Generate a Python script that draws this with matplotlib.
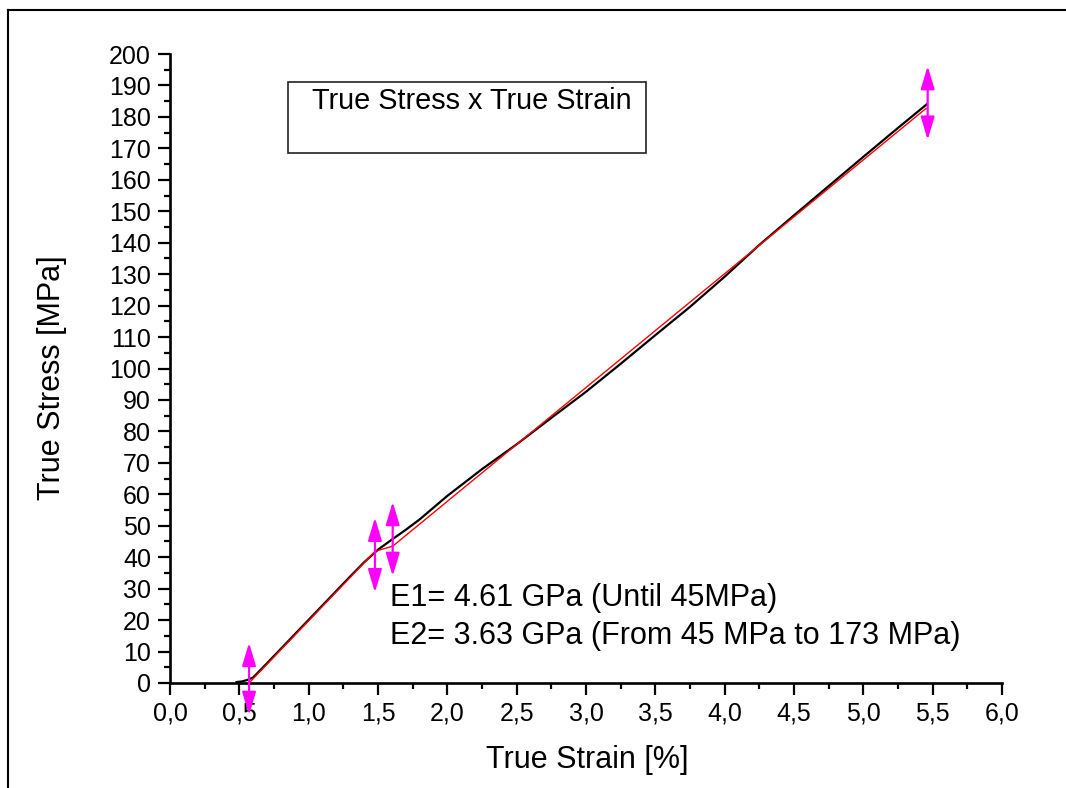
import matplotlib
matplotlib.use("Agg")
import matplotlib.pyplot as plt
from matplotlib.lines import Line2D
from matplotlib.patches import Rectangle, ArrowStyle
from matplotlib.ticker import MultipleLocator, FuncFormatter

plt.rcParams['font.family'] = ['Liberation Sans', 'DejaVu Sans']

# Measured curve (black)
strain_meas = [0.48, 0.52, 0.56, 0.60, 0.70, 0.80, 0.90, 1.00, 1.10, 1.20, 1.30, 1.40,
               1.50, 1.60, 1.70, 1.80, 2.00, 2.25, 2.50, 2.75, 3.00, 3.25, 3.50, 3.75,
               4.00, 4.25, 4.50, 4.75, 5.00, 5.25, 5.46]
stress_meas = [0.3, 0.5, 1.0, 1.8, 6.3, 10.9, 15.5, 20.1, 24.7, 29.3, 33.9, 38.4,
               42.4, 45.6, 48.7, 52.0, 59.5, 68.0, 75.9, 84.3, 92.6, 101.5, 110.6, 119.6,
               129.2, 139.3, 148.7, 158.0, 167.3, 176.5, 184.1]

# Linear fits (red)
strain_fit = [0.57, 1.48, 1.606, 5.452]
stress_fit = [0.0, 41.9, 43.5, 182.7]

# Magenta markers (double arrows): x, y_top, y_bottom
arrow_x = [0.570, 1.478, 1.606, 5.464]
arrow_top = [12.8, 52.6, 57.6, 196.2]
arrow_bot = [-10.2, 28.8, 34.0, 172.7]

xlabel = "True Strain [%]"
ylabel = "True Stress [MPa]"
legend_text = "True Stress x True Strain"
note1 = "E1= 4.61 GPa (Until 45MPa)"
note2 = "E2= 3.63 GPa (From 45 MPa to 173 MPa)"

W, H = 1066, 788
fig = plt.figure(figsize=(W / 100, H / 100), dpi=100)
fig.patch.set_facecolor('white')

def fx(px):
    return px / W

def fy(py):
    return 1 - py / H

ax = fig.add_axes([fx(170), fy(683), fx(1002) - fx(170), fy(54) - fy(683)])
ax.plot(strain_meas, stress_meas, color='black', lw=1.6, zorder=3)
ax.plot(strain_fit, stress_fit, color='red', lw=1.0, zorder=4)

style = ArrowStyle('<|-|>', head_length=1.4, head_width=0.42)
for x, yt, yb in zip(arrow_x, arrow_top, arrow_bot):
    ax.annotate('', xy=(x, yt), xytext=(x, yb),
                arrowprops=dict(arrowstyle=style, color='#FF00FF', lw=1.6,
                                shrinkA=0, shrinkB=0, mutation_scale=10),
                annotation_clip=False, zorder=5)

ax.set_xlim(0, 6)
ax.set_ylim(0, 200)
ax.spines['top'].set_visible(False)
ax.spines['right'].set_visible(False)
for s in ['left', 'bottom']:
    ax.spines[s].set_linewidth(1.9)
ax.xaxis.set_major_locator(MultipleLocator(0.5))
ax.xaxis.set_minor_locator(MultipleLocator(0.25))
ax.yaxis.set_major_locator(MultipleLocator(10))
ax.yaxis.set_minor_locator(MultipleLocator(5))
ax.xaxis.set_major_formatter(FuncFormatter(lambda v, p: f"{v:.1f}".replace('.', ',')))
ax.yaxis.set_major_formatter(FuncFormatter(lambda v, p: f"{v:.0f}"))
ax.tick_params(which='major', direction='out', length=8.6, width=1.6, labelsize=18, colors='black')
ax.tick_params(which='minor', direction='out', length=4.3, width=1.6)
ax.tick_params(axis='x', which='major', pad=5)
ax.tick_params(axis='y', which='major', pad=5)

fig.text(fx(587), fy(760), xlabel, ha='center', va='center', fontsize=22)
fig.text(fx(52), fy(378), ylabel, ha='center', va='center', fontsize=22, rotation=90)

# legend-like box
fig.patches.append(Rectangle((fx(288), fy(153)), fx(646) - fx(288), fy(82) - fy(153),
                             transform=fig.transFigure, fill=False, ec='#222222', lw=1.2))
fig.text(fx(312), fy(109), legend_text, ha='left', va='baseline', fontsize=20.8)

fig.text(fx(390), fy(598), note1, ha='left', va='center', fontsize=22)
fig.text(fx(390), fy(636), note2, ha='left', va='center', fontsize=22)

# outer frame
fig.add_artist(Line2D([fx(8), fx(8)], [fy(10), 0], transform=fig.transFigure, color='black', lw=1.5))
fig.add_artist(Line2D([fx(8), 1], [fy(10), fy(10)], transform=fig.transFigure, color='black', lw=1.5))

fig.savefig('out.png', dpi=100)
